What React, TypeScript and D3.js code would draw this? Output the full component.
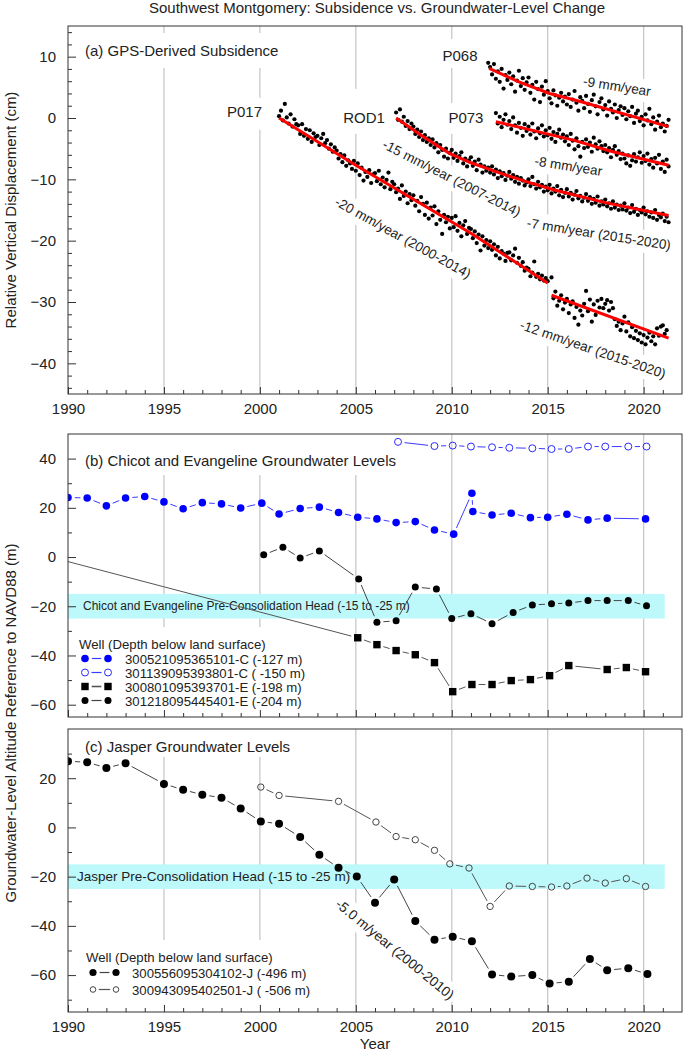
import React, { useEffect, useRef } from "react";
import * as d3 from "d3";

const WIDTH = 685;
const HEIGHT = 1051;
const FONT = "'Liberation Sans', Arial, Helvetica, sans-serif";

// ---------- (a) GPS readings, one every 0.1 year (cm) ----------
const GPS_STEP = 0.1;

const p017Start = 2001.0;
const p017 = [
  0.3, 1.2, -0.4, 2.3, 0.1, -0.9, 0.6, -1.4, -0.2, -1.0,
  -1.2, -2.6, -1.0, -2.9, -1.8, -3.4, -2.0, -3.9, -2.5, -3.1,
  -2.9, -4.4, -3.3, -2.6, -4.1, -3.6, -5.0, -4.3, -5.5, -4.8,
  -5.3, -6.6, -5.9, -7.2, -6.1, -7.8, -6.9, -7.4, -8.3, -7.0,
  -8.6, -7.4, -9.3, -8.1, -10.2, -8.8, -9.6, -8.5, -10.6, -9.2,
  -9.0, -10.3, -8.6, -10.8, -9.7, -11.3, -10.1, -8.9, -11.6, -10.4,
  -10.8, -12.1, -11.5, -13.2, -11.0, -12.7, -12.0, -13.9, -12.4, -13.4,
  -12.6, -14.3, -13.5, -15.2, -12.9, -14.0, -15.8, -13.8, -16.4, -14.6,
  -15.9, -14.4, -17.3, -15.2, -16.6, -18.9, -15.8, -17.0, -16.1, -18.0,
  -16.3, -17.8, -16.0, -18.4, -17.1, -19.3, -17.5, -16.8, -18.9, -17.9,
  -18.1, -19.6, -18.5, -20.4, -19.0, -21.6, -19.3, -20.8, -19.9, -21.2,
  -20.1, -21.5, -20.6, -22.4, -21.0, -22.9, -21.7, -22.1, -23.3, -22.0,
  -21.9, -23.2, -22.4, -21.3, -23.6, -22.8, -24.1, -23.5, -24.9, -24.4,
  -24.6, -25.8, -25.2, -23.4, -25.9, -25.4, -26.3, -25.7, -26.5, -26.1,
  -26.6,
];

const p017LateStart = 2015.2;
const p017Late = [
  -26.0, -29.4, -28.3, -30.6, -29.8, -28.9, -31.2, -30.1,
  -29.5, -31.8, -30.4, -29.9, -32.6, -30.8, -33.7, -31.4, -32.2, -30.3,
  -28.2, -31.5, -29.6, -33.2, -30.4, -32.1, -29.8, -30.9, -29.5, -31.0,
  -30.3, -29.7, -31.4, -30.0, -31.0, -32.8, -33.9, -33.2, -34.6, -33.5,
  -32.4, -34.8, -33.3, -35.6, -34.1, -35.9, -34.7, -36.2, -35.1, -36.6,
  -35.4, -36.9, -35.8, -35.0, -36.4, -35.6, -36.9, -34.3, -35.5, -34.0,
  -33.8, -35.2, -34.6,
];

const rod1Start = 2007.1;
const rod1 = [
  0.9, -0.3, 1.4, -0.6, 0.2, -1.3, -0.5, -1.8, -0.9,
  -1.4, -2.6, -1.9, -3.1, -2.2, -3.6, -2.8, -3.9, -3.3, -4.4,
  -3.5, -4.8, -4.1, -5.6, -4.4, -5.2, -6.3, -5.0, -6.6, -5.7,
  -5.2, -6.5, -5.8, -7.0, -6.2, -5.6, -7.4, -6.6, -7.9, -6.9,
  -6.4, -7.8, -7.1, -8.5, -6.8, -7.6, -8.9, -7.9, -8.6, -8.1,
  -8.9, -7.9, -9.2, -8.4, -9.8, -8.7, -9.5, -9.0, -10.1, -9.4,
  -8.8, -9.9, -9.3, -10.4, -9.6, -10.7, -9.8, -10.2, -11.0, -10.5,
  -10.0, -11.1, -9.6, -10.8, -11.5, -10.4, -11.3, -10.9, -12.0, -11.2,
  -11.8, -10.9, -12.3, -11.5, -12.0, -11.1, -12.6, -11.7, -12.9, -12.2,
  -11.6, -12.8, -12.2, -13.3, -12.5, -11.9, -13.1, -12.7, -13.6, -13.0,
  -12.4, -13.5, -12.9, -14.0, -13.2, -13.8, -12.8, -14.3, -13.6, -14.1,
  -13.3, -14.4, -13.9, -14.8, -13.6, -14.6, -14.1, -15.0, -14.3, -14.9,
  -13.9, -15.1, -14.6, -15.5, -14.2, -15.3, -14.8, -15.8, -15.0, -15.4,
  -14.6, -15.7, -15.2, -16.1, -15.4, -16.3, -15.0, -16.6, -15.8, -16.2,
  -15.6, -16.8, -16.1, -17.0,
];

const p068Start = 2011.9;
const p068 = [
  9.0,
  8.3, 7.1, 8.8, 6.4, 7.6, 5.9, 8.0, 4.8, 7.0, 6.2,
  7.4, 5.5, 6.8, 4.3, 6.1, 7.7, 5.2, 6.5, 4.6, 5.8,
  6.6, 4.1, 5.4, 3.0, 5.9, 4.7, 2.6, 5.1, 3.8, 6.0,
  4.4, 3.2, 2.4, 4.5, 3.7, 2.0, 3.3, 4.1, 2.7, 3.5,
  2.2, 3.9, 1.8, 3.0, 4.4, 2.5, 1.2, 3.4, 2.8, 1.6,
  3.6, 2.3, 1.0, 2.9, 3.8, 1.9, 0.6, 2.6, 3.2, 1.4,
  2.1, 0.4, 2.7, 1.5, 0.9, 2.2, 0.0, 1.3, 1.9, 0.5,
  1.6, -0.2, 1.1, 0.3, 1.8, -0.8, 0.7, 1.2, -0.5, 0.2,
  -1.2, 0.6, -0.4, 1.5, -1.0, 0.1, -1.9, -0.6, 0.4, -1.5,
  -0.9, -2.2, -1.3, -0.3,
];

const p073Start = 2012.3;
const p073 = [
  0.8, -0.9, 0.2, -1.5, -0.3, 0.6, -1.1,
  -0.5, -1.8, 0.1, -1.2, -2.4, -0.8, -1.6, -2.9, -1.0, -2.1,
  -1.4, -2.7, -0.9, -2.2, -3.3, -1.7, -2.5, -1.2, -3.0, -2.0,
  -2.8, -1.6, -3.4, -2.3, -3.9, -2.6, -1.9, -3.2, -2.7, -3.8,
  -3.0, -4.4, -2.6, -3.7, -5.1, -3.3, -4.6, -6.3, -3.9, -4.9,
  -3.5, -4.7, -4.0, -5.5, -3.2, -4.3, -5.0, -3.8, -4.6, -5.4,
  -4.4, -5.6, -4.9, -6.4, -5.2, -4.6, -6.0, -5.4, -6.7, -5.8,
  -6.6, -7.4, -6.1, -7.8, -6.9, -5.9, -7.1, -6.4, -5.6, -7.3,
  -6.2, -7.0, -5.8, -7.6, -6.7, -8.1, -6.5, -7.4, -6.0, -8.3,
  -7.1, -8.8, -6.8, -7.9,
];

// fitted trends [year, cm]
const p017Fit: [number, number][] = [[2001, 0], [2005, -7.7], [2011, -18.8], [2015, -26.9]];
const p017LateFit: [number, number][] = [[2015.2, -28.9], [2021.3, -35.9]];
const rod1Fit: [number, number][] = [
  [2007.1, 0], [2008.5, -3.0], [2009.9, -5.8], [2011, -7.3], [2012.3, -8.75],
  [2013.8, -10.3], [2015.3, -11.7], [2018, -13.8], [2021.3, -15.9],
];
const p068Fit: [number, number][] = [[2011.95, 8.1], [2013.5, 5.9], [2015.1, 4.0], [2016.7, 2.7], [2021.3, -1.4]];
const p073Fit: [number, number][] = [[2012.3, -0.6], [2016.33, -3.6], [2018.4, -5.5], [2021.3, -7.7]];

// ---------- (b) Chicot and Evangeline wells [year, m] ----------
const well365101: [number, number][] = [
  [1990.0, 24.2], [1991.0, 24.0], [1992.0, 20.8], [1993.0, 24.0], [1994.0, 24.6],
  [1995.0, 22.4], [1996.0, 19.6], [1997.0, 22.1], [1998.0, 21.6], [1999.0, 19.9],
  [2000.1, 21.9], [2001.0, 17.5], [2002.1, 19.7], [2003.1, 20.3], [2004.1, 18.1],
  [2005.1, 16.2], [2006.1, 15.5], [2007.1, 14.0], [2008.1, 14.4], [2009.1, 11.0],
  [2010.1, 9.3], [2011.05, 25.9], [2011.1, 18.5], [2012.1, 17.1], [2013.1, 17.8],
  [2014.1, 16.0], [2015.0, 16.2], [2016.0, 17.4], [2017.1, 15.1], [2018.1, 15.8],
  [2020.1, 15.5],
];
const well393801: [number, number][] = [
  [2007.2, 46.8], [2009.1, 45.1], [2010.05, 45.3], [2011.0, 44.9], [2012.1, 44.6],
  [2013.0, 44.4], [2014.2, 44.2], [2015.2, 43.9], [2016.1, 43.9], [2017.1, 44.9],
  [2018.0, 44.9], [2019.2, 44.9], [2020.15, 44.9],
];
const well393701: [number, number][] = [
  [1985.0, 8.4], [2005.1, -32.8], [2006.1, -35.6], [2007.1, -38.0], [2008.1, -39.7],
  [2009.1, -42.9], [2010.05, -54.7], [2011.05, -51.8], [2012.1, -51.8], [2013.1, -50.2],
  [2014.1, -49.8], [2015.1, -48.2], [2016.1, -44.1], [2018.1, -45.7], [2019.1, -44.9],
  [2020.1, -46.6],
];
const well445401: [number, number][] = [
  [2000.2, 0.9], [2001.2, 4.0], [2002.1, -0.4], [2003.1, 2.5], [2005.15, -8.9],
  [2006.1, -26.5], [2007.1, -25.9], [2008.1, -12.2], [2009.2, -13.0], [2010.0, -25.0],
  [2011.0, -23.0], [2012.1, -27.1], [2013.2, -22.5], [2014.2, -19.5], [2015.2, -19.0],
  [2016.1, -18.7], [2017.1, -17.7], [2018.1, -17.7], [2019.2, -17.7], [2020.15, -19.8],
];

// ---------- (c) Jasper wells [year, m] ----------
const well304102: [number, number][] = [
  [1990.0, 26.9], [1991.0, 26.5], [1992.0, 24.2], [1993.0, 26.1], [1995.0, 17.7],
  [1996.0, 15.3], [1997.0, 13.3], [1998.0, 12.1], [1999.0, 7.7], [2000.05, 2.4],
  [2001.0, 1.5], [2002.1, -3.9], [2003.1, -11.1], [2004.1, -16.4], [2005.05, -19.9],
  [2006.0, -30.6], [2007.0, -21.2], [2008.1, -38.0], [2009.1, -45.6], [2010.05, -44.4],
  [2011.05, -46.3], [2012.1, -59.8], [2013.1, -60.6], [2014.2, -60.0], [2015.1, -63.4],
  [2016.1, -62.7], [2017.2, -53.5], [2018.1, -58.0], [2019.2, -57.2], [2020.2, -59.6],
];
const well402501: [number, number][] = [
  [2000.05, 16.4], [2001.0, 13.0], [2004.1, 10.6], [2006.05, 2.2], [2007.1, -3.7],
  [2008.1, -5.0], [2009.1, -9.3], [2009.9, -14.8], [2010.9, -16.5], [2012.0, -32.1],
  [2013.0, -23.8], [2014.2, -24.0], [2015.2, -24.2], [2016.0, -23.8], [2017.05, -20.6],
  [2018.0, -22.6], [2019.1, -20.8], [2020.1, -24.0],
];

const preConsolidation: [number, number] = [-15, -25];

const yearTicks = [1990, 1995, 2000, 2005, 2010, 2015, 2020];
const gridYears = [1995, 2000, 2005, 2010, 2015, 2020];
const yTicksA = [10, 0, -10, -20, -30, -40];
const yTicksB = [40, 20, 0, -20, -40, -60];
const yTicksC = [20, 0, -20, -40, -60];

const legendB = [
  "300521095365101-C (-127 m)",
  "301139095393801-C ( -150 m)",
  "300801095393701-E (-198 m)",
  "301218095445401-E (-204 m)",
];
const legendC = ["300556095304102-J (-496 m)", "300943095402501-J ( -506 m)"];

const toSeries = (start: number, vals: number[]): [number, number][] =>
  vals.map((v, i) => [start + i * GPS_STEP, v]);

const gapSegments = (pts: [number, number][], gap: number) => {
  const segs: number[][] = [];
  for (let i = 0; i < pts.length - 1; i++) {
    const [x1, y1] = pts[i];
    const [x2, y2] = pts[i + 1];
    const L = Math.hypot(x2 - x1, y2 - y1);
    if (L <= 2 * gap) continue;
    const ux = (x2 - x1) / L;
    const uy = (y2 - y1) / L;
    segs.push([x1 + ux * gap, y1 + uy * gap, x2 - ux * gap, y2 - uy * gap]);
  }
  return segs;
};

function draw(svgEl: SVGSVGElement) {
  const svg = d3.select(svgEl);
  svg.selectAll("*").remove();
  svg.attr("font-family", FONT);

  const x = d3.scaleLinear().domain([1990, 2022]).range([68, 682]);
  const ya = d3.scaleLinear().domain([-45, 15]).range([394, 26]);
  const yb = d3.scaleLinear().domain([-65, 50]).range([717, 434]);
  const yc = d3.scaleLinear().domain([-75, 40]).range([1012, 729]);
  const left = 68;
  const right = 682;

  const defs = svg.append("defs");
  [["clipA", ya], ["clipB", yb], ["clipC", yc]].forEach(([id, y]: any) => {
    defs.append("clipPath").attr("id", id).append("rect")
      .attr("x", left).attr("y", y.range()[1])
      .attr("width", right - left).attr("height", y.range()[0] - y.range()[1]);
  });

  const gGrid = svg.append("g");
  const gBox = svg.append("g");
  const gBand = svg.append("g");
  const gLines = svg.append("g");
  const gMarks = svg.append("g");
  const gFit = svg.append("g");
  const gText = svg.append("g").attr("fill", "#222");
  const gAxis = svg.append("g");

  const addLabel = (
    txt: string, px: number, py: number,
    o: { size: number; angle?: number; anchor?: string; dy?: string; pad?: number[]; box?: boolean }
  ) => {
    const tr = `translate(${px},${py}) rotate(${o.angle ?? 0})`;
    const t = gText.append("text")
      .attr("transform", tr)
      .attr("text-anchor", o.anchor ?? "middle")
      .attr("dy", o.dy ?? "0")
      .attr("font-size", o.size)
      .text(txt);
    if (o.box !== false) {
      const b = (t.node() as SVGTextElement).getBBox();
      const [pt, pr, pb, pl] = o.pad ?? [4, 3, 4, 3];
      gBox.append("rect").attr("transform", tr)
        .attr("x", b.x - pl).attr("y", b.y - pt)
        .attr("width", b.width + pl + pr).attr("height", b.height + pt + pb)
        .attr("fill", "#fff");
    }
    return t;
  };

  // ---- frames, grid, axes
  const panels = [
    { y: ya, majors: yTicksA, minors: d3.range(-44, 15, 2).filter((v) => v % 10 !== 0), labels: true },
    { y: yb, majors: yTicksB, minors: [30, 10, -10, -30, -50], labels: false },
    { y: yc, majors: yTicksC, minors: [30, 10, -10, -30, -50, -70], labels: true },
  ];

  panels.forEach((p) => {
    const [bottom, top] = p.y.range();
    gGrid.selectAll(null).data(gridYears).enter().append("line")
      .attr("x1", (d) => x(d)).attr("x2", (d) => x(d))
      .attr("y1", top).attr("y2", bottom)
      .attr("stroke", "#c9c9c9").attr("stroke-width", 1.3);

    gAxis.append("rect").attr("x", left).attr("y", top)
      .attr("width", right - left).attr("height", bottom - top)
      .attr("fill", "none").attr("stroke", "#333").attr("stroke-width", 1);

    const styleAxis = (g: any) => {
      g.select(".domain").remove();
      g.selectAll("line").attr("stroke", "#333");
      g.selectAll("text").attr("font-size", 15).attr("font-family", FONT).attr("fill", "#222");
    };

    gAxis.append("g").attr("transform", `translate(${left},0)`)
      .call(d3.axisLeft(p.y).tickValues(p.majors).tickSize(-8).tickPadding(12).tickFormat(d3.format("d")))
      .call(styleAxis);
    gAxis.append("g").attr("transform", `translate(${left},0)`)
      .call(d3.axisLeft(p.y).tickValues(p.minors).tickSize(-4).tickFormat(() => ""))
      .call(styleAxis);

    gAxis.append("g").attr("transform", `translate(0,${bottom})`)
      .call(d3.axisBottom(x).tickValues(yearTicks).tickSize(-7).tickPadding(9)
        .tickFormat(p.labels ? d3.format("d") : () => ""))
      .call(styleAxis);
    gAxis.append("g").attr("transform", `translate(0,${bottom})`)
      .call(d3.axisBottom(x).tickValues(d3.range(1991, 2022).filter((v) => v % 5 !== 0)).tickSize(-4).tickFormat(() => ""))
      .call(styleAxis);
  });

  // ---- titles
  addLabel("Southwest Montgomery: Subsidence vs. Groundwater-Level Change", 377, 13, { size: 15, box: false });
  addLabel("(a) GPS-Derived Subsidence", 85, 56, { size: 15, anchor: "start", pad: [9, 5, 9, 17] });
  addLabel("(b) Chicot and Evangeline Groundwater Levels", 85, 466, { size: 15, anchor: "start", pad: [20, 8, 6, 17] });
  addLabel("(c) Jasper Groundwater Levels", 85, 752, { size: 15, anchor: "start", pad: [20, 8, 2, 17] });
  addLabel("Year", 375, 1049, { size: 15, box: false });
  addLabel("Relative Vertical Displacement (cm)", 16, (ya.range()[0] + ya.range()[1]) / 2, { size: 15, angle: -90, box: false });
  addLabel("Groundwater-Level Altitude Reference to NAVD88 (m)", 16, (yb.range()[1] + yc.range()[0]) / 2, { size: 15, angle: -90, box: false });

  // ---- (a) GPS
  const clipA = gMarks.append("g").attr("clip-path", "url(#clipA)");
  const gpsSets = [
    toSeries(p017Start, p017), toSeries(p017LateStart, p017Late),
    toSeries(rod1Start, rod1), toSeries(p068Start, p068), toSeries(p073Start, p073),
  ];
  gpsSets.forEach((s) => {
    clipA.selectAll(null).data(s).enter().append("circle")
      .attr("cx", (d) => x(d[0])).attr("cy", (d) => ya(d[1]))
      .attr("r", 2.1).attr("fill", "#000");
  });
  const fitLine = d3.line<[number, number]>().x((d) => x(d[0])).y((d) => ya(d[1]));
  [p017Fit, p017LateFit, rod1Fit, p068Fit, p073Fit].forEach((f) => {
    gFit.append("path").attr("d", fitLine(f)).attr("fill", "none")
      .attr("stroke", "#ff0000").attr("stroke-width", 3);
  });

  addLabel("P017", x(1999.2), ya(0.2), { size: 15, pad: [5, 3, 10, 3] });
  addLabel("ROD1", x(2005.43), ya(-0.8), { size: 15, pad: [20, 3, 8, 3] });
  addLabel("P073", x(2010.74), ya(-0.8), { size: 15, pad: [6, 3, 8, 3] });
  addLabel("P068", x(2010.43), ya(9.3), { size: 15, pad: [8, 3, 4, 3] });

  const rateOpts = { size: 13.5, dy: "0.35em", pad: [4, 3, 4, 3] };
  addLabel("-9 mm/year", x(2018.61), ya(5.2), { ...rateOpts, angle: 9 });
  addLabel("-8 mm/year", x(2016.08), ya(-7.8), { ...rateOpts, angle: 9 });
  addLabel("-15 mm/year (2007-2014)", x(2010.0), ya(-9.8), { ...rateOpts, angle: 27 });
  addLabel("-7 mm/year (2015-2020)", x(2017.67), ya(-18.9), { ...rateOpts, angle: 9 });
  addLabel("-20 mm/year (2000-2014)", x(2007.46), ya(-19.5), { ...rateOpts, angle: 29 });
  addLabel("-12 mm/year (2015-2020)", x(2017.36), ya(-37.7), { ...rateOpts, angle: 19 });

  // ---- bands
  const bands = [
    { y: yb, text: "Chicot and Evangeline Pre-Consolidation Head (-15 to -25 m)", size: 12, tx: 83 },
    { y: yc, text: "Jasper Pre-Consolidation Head (-15 to -25 m)", size: 13.5, tx: 77 },
  ];
  bands.forEach((b) => {
    gBand.append("rect").attr("x", left).attr("width", x(2021.1) - left)
      .attr("y", b.y(preConsolidation[0]))
      .attr("height", b.y(preConsolidation[1]) - b.y(preConsolidation[0]))
      .attr("fill", "#bdf9fb");
    gBand.append("text").attr("x", b.tx)
      .attr("y", (b.y(preConsolidation[0]) + b.y(preConsolidation[1])) / 2)
      .attr("dy", "0.35em").attr("font-size", b.size).attr("fill", "#222").text(b.text);
  });

  // ---- well series
  type Sym = "dot" | "open" | "square";
  const drawSymbols = (g: any, pts: [number, number][], sym: Sym, r: number, color: string) => {
    if (sym === "square") {
      g.selectAll(null).data(pts).enter().append("rect")
        .attr("x", (d: number[]) => d[0] - r).attr("y", (d: number[]) => d[1] - r)
        .attr("width", 2 * r).attr("height", 2 * r).attr("fill", color);
    } else {
      g.selectAll(null).data(pts).enter().append("circle")
        .attr("cx", (d: number[]) => d[0]).attr("cy", (d: number[]) => d[1]).attr("r", r)
        .attr("fill", sym === "dot" ? color : "none")
        .attr("stroke", sym === "dot" ? "none" : color).attr("stroke-width", 1);
    }
  };
  const drawSeries = (
    data: [number, number][], y: any, clip: string,
    sym: Sym, r: number, color: string, lineColor: string
  ) => {
    const pts = data.map((d) => [x(d[0]), y(d[1])] as [number, number]);
    const gl = gLines.append("g").attr("clip-path", `url(#${clip})`);
    gl.selectAll(null).data(gapSegments(pts, r + 3)).enter().append("line")
      .attr("x1", (d) => d[0]).attr("y1", (d) => d[1])
      .attr("x2", (d) => d[2]).attr("y2", (d) => d[3])
      .attr("stroke", lineColor).attr("stroke-width", 1);
    const gm = gMarks.append("g").attr("clip-path", `url(#${clip})`);
    drawSymbols(gm, pts, sym, r, color);
  };

  const seriesB = [
    { data: well365101, sym: "dot" as Sym, r: 3.8, color: "#0000ff", line: "#3b3bff" },
    { data: well393801, sym: "open" as Sym, r: 3.5, color: "#2a2aff", line: "#3b3bff" },
    { data: well393701, sym: "square" as Sym, r: 3.7, color: "#000", line: "#555" },
    { data: well445401, sym: "dot" as Sym, r: 3.5, color: "#000", line: "#444" },
  ];
  seriesB.forEach((s) => drawSeries(s.data, yb, "clipB", s.sym, s.r, s.color, s.line));

  const seriesC = [
    { data: well304102, sym: "dot" as Sym, r: 4, color: "#000", line: "#444" },
    { data: well402501, sym: "open" as Sym, r: 3.2, color: "#444", line: "#555" },
  ];
  seriesC.forEach((s) => drawSeries(s.data, yc, "clipC", s.sym, s.r, s.color, s.line));

  addLabel("-5.0 m/year (2000-2010)", x(2007.04), yc(-49.5), { ...rateOpts, size: 13.8, angle: 39.5 });

  // ---- legends
  const drawLegend = (
    items: { label: string; sym: Sym; r: number; color: string; line: string }[],
    y: any, titleY: number, rowYs: number[], x1: number, x2: number, tx: number, size: number
  ) => {
    const g = gText.append("g");
    g.append("text").attr("x", tx - 46).attr("y", titleY).attr("font-size", size)
      .text("Well (Depth below land surface)");
    items.forEach((it, i) => {
      const cy = rowYs[i] - 5;
      const pts: [number, number][] = [[x1, cy], [x2, cy]];
      gapSegments(pts, it.r + 3).forEach((s) => {
        g.append("line").attr("x1", s[0]).attr("y1", s[1]).attr("x2", s[2]).attr("y2", s[3])
          .attr("stroke", it.line).attr("stroke-width", it.sym === "square" ? 1.6 : 1.2);
      });
      drawSymbols(g, pts, it.sym, it.r, it.color);
      g.append("text").attr("x", tx).attr("y", rowYs[i]).attr("font-size", size).text(it.label);
    });
    const b = (g.node() as SVGGElement).getBBox();
    gBox.append("rect").attr("x", left + 1).attr("y", b.y - 10)
      .attr("width", b.x + b.width + 6 - left).attr("height", y.range()[0] - (b.y - 10))
      .attr("fill", "#fff");
  };

  drawLegend(
    seriesB.map((s, i) => ({ label: legendB[i], sym: s.sym, r: s.r, color: s.color, line: s.line })),
    yb, 649, [663.5, 677.5, 691.5, 705.5], 85, 108, 125, 13.2
  );
  drawLegend(
    seriesC.map((s, i) => ({ label: legendC[i], sym: s.sym, r: s.r - 0.4, color: s.color, line: s.line })),
    yc, 962, [977.5, 994.5], 93, 116, 132, 13.2
  );
}

export default function App() {
  const ref = useRef<SVGSVGElement>(null);
  useEffect(() => {
    document.body.style.margin = "0";
    if (ref.current) draw(ref.current);
  }, []);
  return (
    <svg ref={ref} width={WIDTH} height={HEIGHT} style={{ display: "block", background: "#fff" }} />
  );
}
